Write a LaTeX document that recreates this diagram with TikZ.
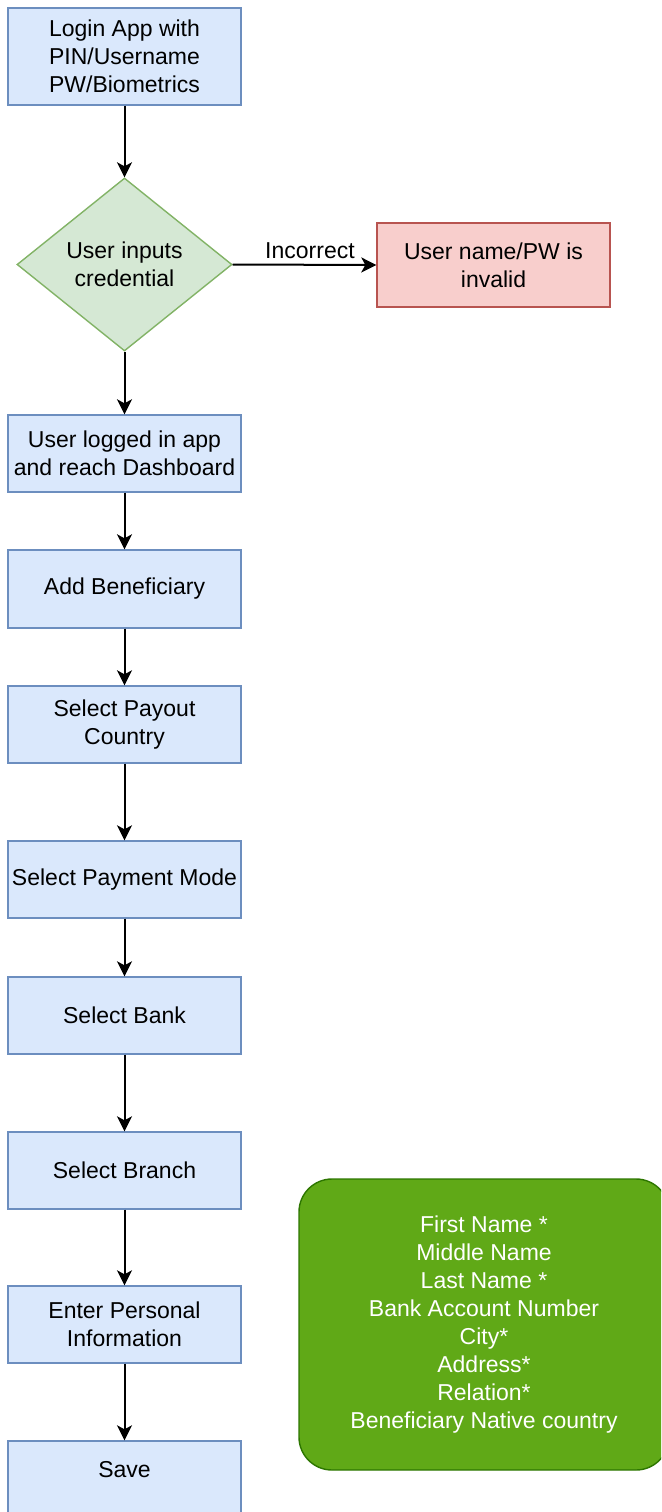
\documentclass[tikz,border=0pt]{standalone}
\usepackage{fontspec}
\setmainfont{Liberation Sans}
\usetikzlibrary{shapes.geometric,arrows.meta}

\definecolor{stepfill}{HTML}{DAE8FC}
\definecolor{stepline}{HTML}{6C8EBF}
\definecolor{decfill}{HTML}{D5E8D4}
\definecolor{decline}{HTML}{82B366}
\definecolor{errfill}{HTML}{F8CECC}
\definecolor{errline}{HTML}{B85450}
\definecolor{notefill}{HTML}{60A917}
\definecolor{noteline}{HTML}{2D7600}

\begin{document}
\begin{tikzpicture}[x=1pt,y=-1pt,
  every node/.style={font=\fontsize{23}{28}\selectfont, align=center, inner sep=0pt},
  stepbox/.style={draw=stepline, fill=stepfill, line width=1.4pt,
    minimum width=233pt, minimum height=77pt},
  decbox/.style={diamond, draw=decline, fill=decfill, line width=1.4pt,
    minimum width=215pt, minimum height=173pt, aspect=1.24},
  errbox/.style={draw=errline, fill=errfill, line width=1.4pt,
    minimum width=233pt, minimum height=84pt},
  notebox/.style={draw=noteline, fill=notefill, line width=1.4pt, text=white,
    rounded corners=33pt, minimum width=370pt, minimum height=291pt},
  flow/.style={-{Stealth[length=15pt,width=15pt,inset=4pt]}, line width=2pt}
]
\useasboundingbox (0,0) rectangle (661,1512);
\clip (0,0) rectangle (661,1512);

% main flow
\node[stepbox, minimum height=97pt] (login) at (124.5,56.5)
  {Login App with\\PIN/Username\\PW/Biometrics};
\node[decbox] (cred) at (124.5,264.5) {User inputs\\credential};
\node[errbox] (invalid) at (493.5,265) {User name/PW is\\invalid};
\node[stepbox] (dash) at (124.5,453.5) {User logged in app\\and reach Dashboard};
\node[stepbox, minimum height=78pt] (addben) at (124.5,589) {Add Beneficiary};
\node[stepbox] (country) at (124.5,724.5) {Select Payout\\Country};
\node[stepbox] (mode) at (124.5,879.5) {Select Payment Mode};
\node[stepbox] (bank) at (124.5,1015.5) {Select Bank};
\node[stepbox] (branch) at (124.5,1170.5) {Select Branch};
\node[stepbox] (personal) at (124.5,1324.5) {Enter Personal\\Information};
\node[stepbox] (save) at (124.5,1479.5) {\raisebox{9.5pt}[\height][\depth]{Save}};

% required fields
\node[notebox] (fields) at (484,1324.5)
  {First Name *\\Middle Name\\Last Name *\\Bank Account Number\\City*\\Address*\\Relation*\\Beneficiary Native country};

% connectors
\draw[flow] (login) -- (cred);
\draw[flow] (cred.east) -- node[pos=0.538, anchor=base, yshift=6pt] {Incorrect} (invalid.west);
\draw[flow] (cred.south) -- (dash);
\draw[flow] (dash) -- (addben);
\draw[flow] (addben) -- (country);
\draw[flow] (country) -- (mode);
\draw[flow] (mode) -- (bank);
\draw[flow] (bank) -- (branch);
\draw[flow] (branch) -- (personal);
\draw[flow] (personal) -- (save);
\end{tikzpicture}
\end{document}
